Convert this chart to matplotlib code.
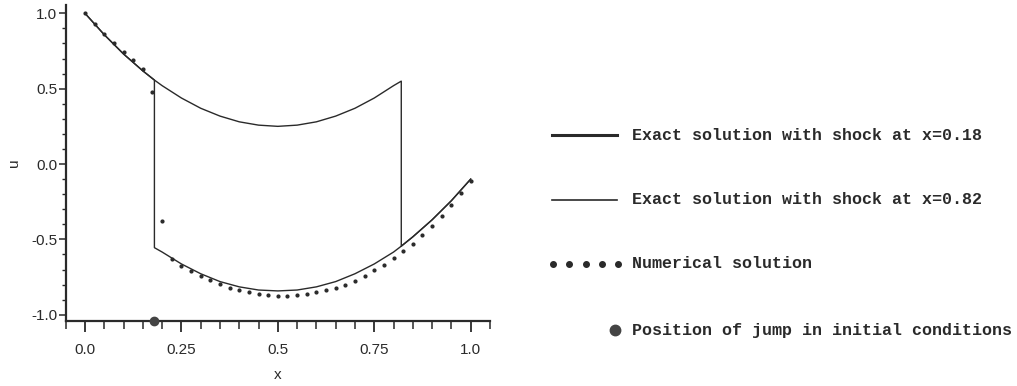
import numpy as np
import matplotlib.pyplot as plt
from matplotlib.ticker import MultipleLocator

plt.rcParams['font.family'] = ['Liberation Sans Narrow', 'Liberation Sans', 'DejaVu Sans']
plt.rcParams['xtick.direction'] = 'out'
plt.rcParams['ytick.direction'] = 'out'
plt.rcParams['axes.spines.right'] = False
plt.rcParams['axes.spines.top'] = False

INK = '#2a2a2a'

# exact solution, upper branch (left of the shock) and lower branch (right of it)
x_up = [0.00, 0.05, 0.10, 0.15, 0.18, 0.20, 0.25, 0.30, 0.35, 0.40,
        0.45, 0.50, 0.55, 0.60, 0.65, 0.70, 0.75, 0.80, 0.82]
u_up = [1.000, 0.858, 0.730, 0.618, 0.557, 0.520, 0.438, 0.370, 0.318, 0.280,
        0.258, 0.250, 0.258, 0.280, 0.318, 0.370, 0.438, 0.520, 0.550]
x_lo = [0.18, 0.20, 0.25, 0.30, 0.35, 0.40, 0.45, 0.50, 0.55, 0.60,
        0.65, 0.70, 0.75, 0.80, 0.82, 0.85, 0.90, 0.95, 1.00]
u_lo = [-0.555, -0.584, -0.663, -0.728, -0.780, -0.815, -0.836, -0.842, -0.836, -0.815,
        -0.780, -0.728, -0.663, -0.584, -0.545, -0.483, -0.370, -0.243, -0.100]

shocks = [0.18, 0.82]
x_jump = 0.18

# numerical solution
x_num = [0.000, 0.025, 0.050, 0.075, 0.100, 0.125, 0.150, 0.175, 0.200, 0.225,
         0.250, 0.275, 0.300, 0.325, 0.350, 0.375, 0.400, 0.425, 0.450, 0.475,
         0.500, 0.525, 0.550, 0.575, 0.600, 0.625, 0.650, 0.675, 0.700, 0.725,
         0.750, 0.775, 0.800, 0.825, 0.850, 0.875, 0.900, 0.925, 0.950, 0.975, 1.000]
u_num = [1.000, 0.930, 0.860, 0.800, 0.740, 0.690, 0.630, 0.480, -0.380, -0.630,
         -0.675, -0.710, -0.740, -0.770, -0.795, -0.820, -0.835, -0.850, -0.860, -0.868,
         -0.873, -0.874, -0.870, -0.863, -0.852, -0.838, -0.820, -0.800, -0.775, -0.742,
         -0.705, -0.668, -0.625, -0.580, -0.530, -0.470, -0.410, -0.345, -0.272, -0.192, -0.110]

legend_labels = ['Exact solution with shock at x=0.18',
                 'Exact solution with shock at x=0.82',
                 'Numerical solution',
                 'Position of jump in initial conditions']

x_up = np.array(x_up); u_up = np.array(u_up)
x_lo = np.array(x_lo); u_lo = np.array(u_lo)


def branch(s):
    # upper branch up to the shock, vertical drop, lower branch after it
    m1 = x_up <= s + 1e-9
    m2 = x_lo >= s - 1e-9
    return np.r_[x_up[m1], x_lo[m2]], np.r_[u_up[m1], u_lo[m2]]


fig = plt.figure(figsize=(10.17, 3.86), dpi=100)
ax = fig.add_axes([0.0646, 0.169, 0.4172, 0.818])

for s in shocks:
    xs, us = branch(s)
    ax.plot(xs, us, color=INK, lw=1.0)
ax.plot(x_num, u_num, ls='none', marker='o', ms=2.0, color=INK)
ax.plot([x_jump], [-1.04], ls='none', marker='o', ms=6, color='#444444', clip_on=False, zorder=5)

ax.set_xlim(-0.05, 1.05)
ax.set_ylim(-1.04, 1.055)
ax.xaxis.set_major_locator(MultipleLocator(0.25))
ax.xaxis.set_minor_locator(MultipleLocator(0.05))
ax.yaxis.set_major_locator(MultipleLocator(0.5))
ax.yaxis.set_minor_locator(MultipleLocator(0.1))
ax.set_xticks([0, 0.25, 0.5, 0.75, 1.0])
ax.set_xticklabels(['0.0', '0.25', '0.5', '0.75', '1.0'])
ax.set_yticks([-1.0, -0.5, 0.0, 0.5, 1.0])
ax.set_yticklabels(['-1.0', '-0.5', '0.0', '0.5', '1.0'])
for sp in ('left', 'bottom'):
    ax.spines[sp].set_linewidth(1.6)
    ax.spines[sp].set_color(INK)
ax.tick_params(axis='x', which='major', length=8, width=1.3, pad=8, labelsize=11, colors=INK)
ax.tick_params(axis='x', which='minor', length=6, width=1.1, colors=INK)
ax.tick_params(axis='y', which='major', length=5, width=1.1, pad=1, labelsize=11, colors=INK)
ax.tick_params(axis='y', which='minor', length=3, width=1.0, colors=INK)
ax.set_xlabel('x', fontsize=11, color=INK, labelpad=8)
ax.set_ylabel('u', fontsize=11, color=INK)
ax.yaxis.set_label_coords(-0.105, 0.5)

# legend drawn by hand in figure pixel coordinates
lg = fig.add_axes([0, 0, 1, 1])
lg.set_xlim(0, 1017)
lg.set_ylim(386, 0)
lg.axis('off')
rows = [135, 200, 264, 330]
tx = 632
lg.plot([552, 617], [rows[0], rows[0]], color=INK, lw=2.2)
lg.plot([552, 617], [rows[1], rows[1]], color=INK, lw=1.2)
lg.plot(np.linspace(553, 618, 5), [rows[2]] * 5, ls='none', marker='o', ms=4, color=INK)
lg.plot([615], [rows[3]], ls='none', marker='o', ms=7.5, color='#444444')
for r, lab in zip(rows, legend_labels):
    lg.text(tx, r, lab, family=['Liberation Mono', 'DejaVu Sans Mono'], weight='bold',
            fontsize=12, color=INK, va='center', ha='left')

fig.savefig('out.png', dpi=100)
